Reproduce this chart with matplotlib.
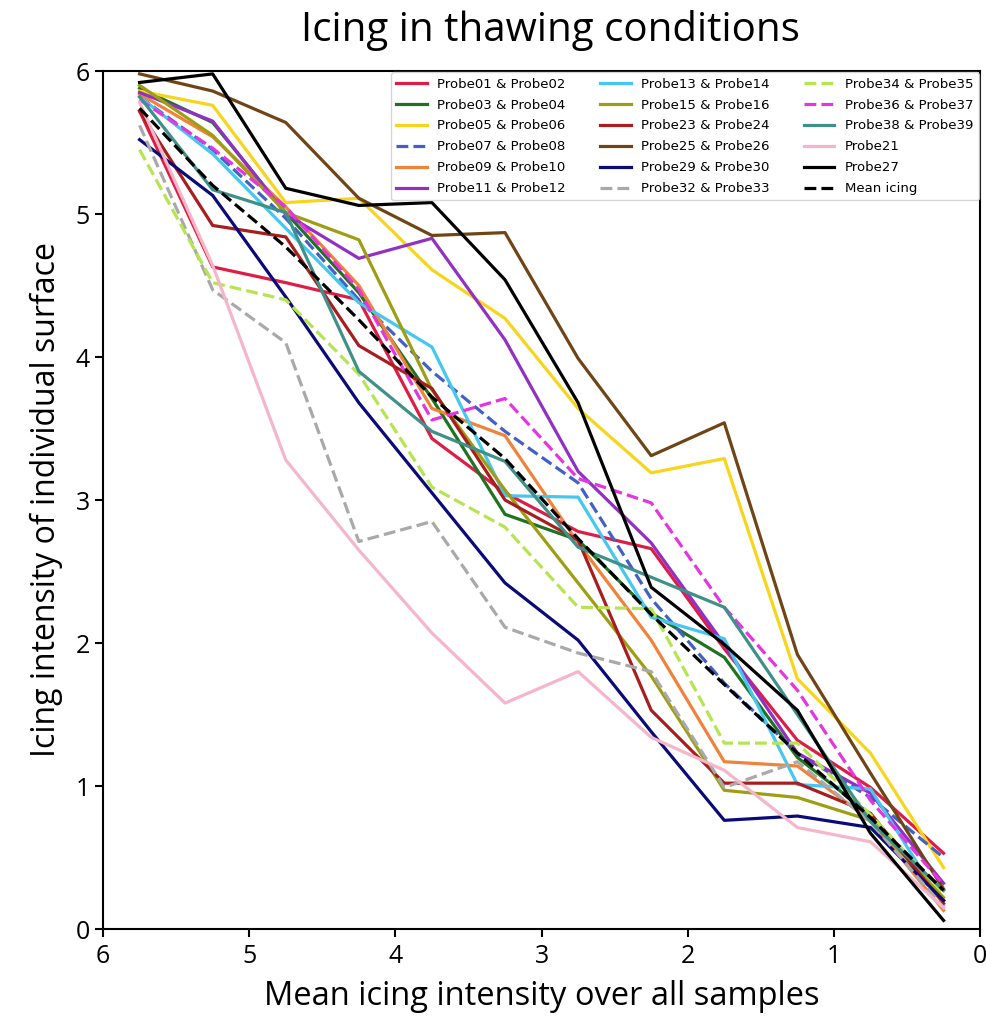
"""
Icing in thawing conditions: icing intensity of each probe pair
plotted against the mean icing intensity over all samples
"""

import matplotlib
matplotlib.use('Agg')
import matplotlib.pyplot as plt

# Mean icing intensity bins (x axis)
mean_bins = [5.75, 5.25, 4.75, 4.25, 3.75, 3.25, 2.75, 2.25, 1.75, 1.25, 0.75, 0.25]

# Icing intensity of individual surfaces
probe01_02 = [5.72, 4.63, 4.52, 4.40, 3.43, 3.05, 2.78, 2.66, 1.96, 1.32, 0.99, 0.53]
probe03_04 = [5.88, 5.64, 5.01, 4.45, 3.71, 2.90, 2.72, 2.21, 1.90, 1.20, 0.80, 0.20]
probe05_06 = [5.86, 5.76, 5.08, 5.11, 4.61, 4.27, 3.64, 3.19, 3.29, 1.75, 1.23, 0.43]
probe07_08 = [5.82, 5.45, 4.97, 4.40, 3.90, 3.48, 3.12, 2.31, 1.72, 1.23, 0.92, 0.50]
probe09_10 = [5.84, 5.54, 5.05, 4.50, 3.64, 3.45, 2.70, 2.02, 1.17, 1.14, 0.76, 0.13]
probe11_12 = [5.85, 5.65, 5.00, 4.69, 4.83, 4.12, 3.20, 2.70, 1.99, 1.23, 0.95, 0.32]
probe13_14 = [5.82, 5.42, 4.90, 4.38, 4.07, 3.03, 3.02, 2.18, 2.03, 1.01, 0.98, 0.17]
probe15_16 = [5.90, 5.55, 5.01, 4.82, 3.77, 3.07, 2.42, 1.77, 0.97, 0.92, 0.76, 0.22]
probe23_24 = [5.72, 4.92, 4.84, 4.08, 3.78, 3.00, 2.72, 1.53, 1.02, 1.02, 0.81, 0.18]
probe25_26 = [5.98, 5.86, 5.64, 5.11, 4.85, 4.87, 3.99, 3.31, 3.54, 1.92, 1.09, 0.28]
probe29_30 = [5.52, 5.13, 4.42, 3.68, 3.05, 2.42, 2.02, 1.38, 0.76, 0.79, 0.71, 0.20]
probe32_33 = [5.62, 4.47, 4.10, 2.71, 2.85, 2.11, 1.93, 1.80, 0.99, 1.17, 0.75, 0.15]
probe34_35 = [5.45, 4.52, 4.40, 3.88, 3.09, 2.81, 2.25, 2.24, 1.30, 1.30, 0.80, 0.25]
probe36_37 = [5.80, 5.46, 5.05, 4.47, 3.56, 3.71, 3.15, 2.98, 2.25, 1.67, 0.90, 0.31]
probe38_39 = [5.82, 5.17, 5.01, 3.90, 3.48, 3.27, 2.67, 2.46, 2.25, 1.50, 0.75, 0.27]
probe21 = [5.78, 4.64, 3.28, 2.65, 2.07, 1.58, 1.80, 1.34, 1.11, 0.71, 0.61, 0.15]
probe27 = [5.92, 5.98, 5.18, 5.06, 5.08, 4.54, 3.68, 2.39, 1.99, 1.53, 0.67, 0.06]
mean_icing = [5.74, 5.20, 4.77, 4.26, 3.72, 3.29, 2.73, 2.20, 1.71, 1.23, 0.78, 0.27]

labels = ['Probe01 & Probe02', 'Probe03 & Probe04', 'Probe05 & Probe06',
          'Probe07 & Probe08', 'Probe09 & Probe10', 'Probe11 & Probe12',
          'Probe13 & Probe14', 'Probe15 & Probe16', 'Probe23 & Probe24',
          'Probe25 & Probe26', 'Probe29 & Probe30', 'Probe32 & Probe33',
          'Probe34 & Probe35', 'Probe36 & Probe37', 'Probe38 & Probe39',
          'Probe21', 'Probe27', 'Mean icing']

series = [probe01_02, probe03_04, probe05_06, probe07_08, probe09_10, probe11_12,
          probe13_14, probe15_16, probe23_24, probe25_26, probe29_30, probe32_33,
          probe34_35, probe36_37, probe38_39, probe21, probe27, mean_icing]

colors = ['#dc1e46', '#1f721f', '#f7d51c', '#4560c4', '#f0823a', '#9230c4',
          '#45c8ef', '#9e9e14', '#a81e1e', '#704516', '#0a0a78', '#a9a9a9',
          '#b5e550', '#e535e0', '#3f9088', '#f4b6c8', '#000000', '#000000']

styles = ['-', '-', '-', '--', '-', '-',
          '-', '-', '-', '-', '-', '--',
          '--', '--', '-', '-', '-', '--']

plt.rcParams['font.family'] = 'Open Sans'

fig = plt.figure(figsize=(9.87, 10.19), dpi=100)
ax = fig.add_axes([0.1044, 0.0883, 0.8886, 0.842])

for values, label, color, ls in zip(series, labels, colors, styles):
    ax.plot(mean_bins, values, color=color, linestyle=ls, linewidth=2.3, label=label)

ax.set_xlim(6, 0)
ax.set_ylim(0, 6)
ax.set_xticks([6, 5, 4, 3, 2, 1, 0])
ax.set_yticks([0, 1, 2, 3, 4, 5, 6])
ax.tick_params(labelsize=18, width=1.5, length=6)
ax.tick_params(axis='x', pad=5)
for spine in ax.spines.values():
    spine.set_linewidth(1.5)

ax.set_xlabel('Mean icing intensity over all samples', fontsize=23.5, labelpad=8)
ax.set_ylabel('Icing intensity of individual surface', fontsize=23, labelpad=9)
fig.text(0.558, 0.970, 'Icing in thawing conditions', fontsize=29,
         ha='center', va='center')

ax.legend(loc='upper right', ncol=3, prop={'family': 'DejaVu Sans', 'size': 9.5},
          borderaxespad=0.1, labelspacing=0.6, columnspacing=2.6, handlelength=2.3)

plt.savefig('out.png', dpi=100)
